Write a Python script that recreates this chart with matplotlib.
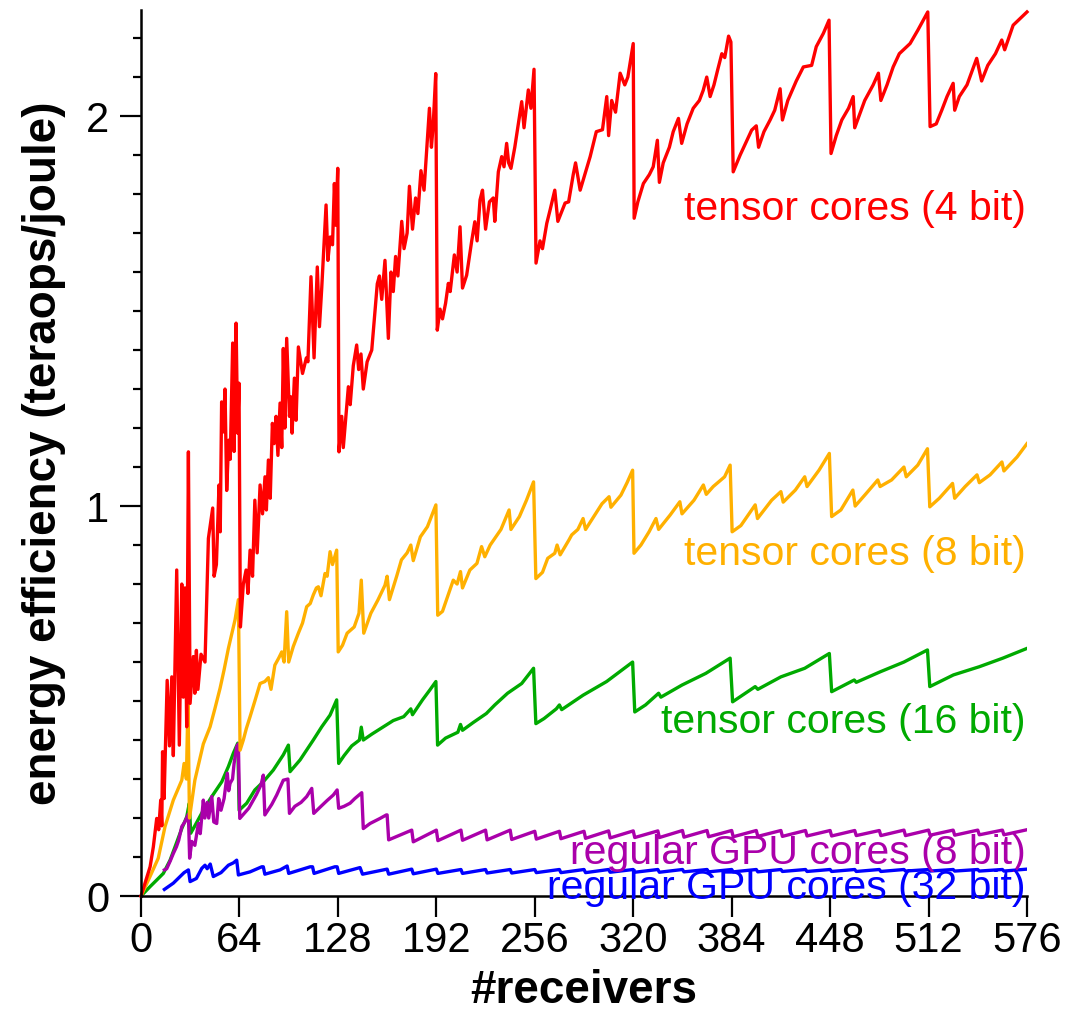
import matplotlib
matplotlib.use('Agg')
import matplotlib.pyplot as plt
from matplotlib.ticker import MultipleLocator

plt.rcParams['font.family'] = ['Liberation Sans', 'DejaVu Sans']

# tensor cores (4 bit)
red_x = [0, 5.9, 8, 10.2, 11.5, 12.8, 13.5, 14, 15, 17, 18.5, 20, 21, 23.2, 24.9, 26.5, 27.5, 28.6, 29.7,
         30.8, 31.9, 34, 35, 36, 37, 39, 41.6, 43.8, 46.6, 47.5, 49, 50.7, 51.5, 52.4, 53.5, 54.6, 55.7, 57,
         58, 59.6, 60.5, 61.8, 62.8, 63.7, 64.6, 66.5, 68.3, 69.5, 70.9, 72.5, 74, 75.5, 77.4, 79, 80.6, 81.5,
         82.8, 84, 85.4, 86.5, 87.8, 89, 90.4, 91.5, 92.5, 93.5, 94.7, 96.5, 97.5, 98.2, 99.7, 100.8, 102.3,
         105, 107.5, 108.5, 110.5, 112.5, 114.6, 116, 117.5, 120.3, 121.5, 123, 124.5, 125.7, 126.7, 127.9,
         128.7, 130.5, 131.5, 133, 134.8, 136, 138, 140.2, 141.5, 143, 144.5, 147, 150, 153.6, 155, 156.5,
         158.6, 160.8, 162.5, 164, 165.5, 167, 169.5, 171, 173, 174.5, 176.5, 178.5, 180, 182, 184, 185.7,
         187.5, 188.8, 190, 191.6, 192.6, 194.4, 196, 198, 199.8, 201, 203.7, 205.5, 207.4, 209, 211.7, 215,
         217, 218.5, 220.4, 222, 224, 226.5, 229, 230, 232.3, 234.5, 236, 237.7, 239, 240.5, 243, 247.5, 249,
         251.8, 253.5, 255.5, 256.8, 259.4, 261, 263.8, 266, 269, 271, 275.7, 278, 281, 282.5, 285.5, 290,
         292, 296, 300, 302.8, 304, 306, 308.5, 311.5, 314.5, 316.5, 320, 320.6, 323, 326.6, 330.5, 333,
         335.7, 337, 339.5, 343.5, 346, 349.4, 351.5, 355, 359, 363, 365.5, 367.8, 370, 372.5, 375, 377.6,
         379.5, 382, 383.5, 385, 389.5, 393, 397, 400, 401.5, 405, 409, 412, 415.5, 417, 420.5, 426, 430.6,
         436, 439, 443.6, 447.3, 448.6, 452, 455.6, 460, 463, 464, 470.5, 476, 479.4, 481, 485, 489, 493,
         500, 505, 509.7, 511.5, 513, 517, 520.6, 524, 528, 529, 532, 537, 543.3, 546.5, 550.5, 555.5,
         559.6, 561.5, 567, 571.5, 576]
red_y = [0, 0.075, 0.126, 0.199, 0.17, 0.246, 0.18, 0.37, 0.25, 0.553, 0.385, 0.562, 0.36, 0.836, 0.387,
         0.80, 0.51, 0.79, 0.434, 1.139, 0.494, 0.614, 0.52, 0.63, 0.53, 0.62, 0.60, 0.917, 0.995, 0.82,
         0.85, 1.054, 0.934, 1.267, 1.19, 1.30, 1.04, 1.169, 1.12, 1.418, 1.14, 1.469, 1.187, 1.315, 0.69,
         0.80, 0.836, 0.776, 0.887, 0.82, 1.015, 0.88, 1.054, 0.98, 1.075, 0.99, 1.118, 1.02, 1.212, 1.16,
         1.23, 1.13, 1.264, 1.15, 1.404, 1.2, 1.43, 1.23, 1.28, 1.187, 1.328, 1.22, 1.408, 1.34, 1.38, 1.37,
         1.588, 1.38, 1.613, 1.46, 1.56, 1.772, 1.63, 1.69, 1.67, 1.827, 1.72, 1.866, 1.139, 1.23, 1.15,
         1.22, 1.306, 1.26, 1.36, 1.413, 1.35, 1.39, 1.30, 1.37, 1.40, 1.57, 1.59, 1.53, 1.63, 1.43, 1.60,
         1.55, 1.64, 1.59, 1.73, 1.66, 1.70, 1.82, 1.71, 1.79, 1.75, 1.86, 1.81, 1.91, 2.02, 1.92, 1.98,
         2.109, 1.451, 1.505, 1.48, 1.52, 1.571, 1.55, 1.644, 1.60, 1.716, 1.559, 1.592, 1.68, 1.729, 1.68,
         1.785, 1.81, 1.71, 1.78, 1.79, 1.73, 1.857, 1.896, 1.87, 1.93, 1.88, 1.866, 1.92, 2.037, 1.97,
         2.067, 2.02, 2.12, 1.623, 1.68, 1.66, 1.725, 1.76, 1.81, 1.73, 1.777, 1.78, 1.85, 1.88, 1.81, 1.87,
         1.896, 1.96, 1.965, 2.05, 1.95, 2.04, 2.01, 2.11, 2.08, 2.10, 2.186, 1.738, 1.78, 1.827, 1.85,
         1.87, 1.938, 1.83, 1.88, 1.92, 1.96, 1.994, 1.93, 1.98, 2.02, 2.04, 2.066, 2.10, 2.05, 2.08, 2.12,
         2.16, 2.15, 2.205, 2.19, 1.857, 1.9, 1.93, 1.964, 1.975, 1.92, 1.96, 1.99, 2.015, 2.07, 1.99, 2.04,
         2.09, 2.126, 2.13, 2.178, 2.212, 2.246, 1.904, 1.95, 1.99, 2.02, 2.05, 1.97, 2.04, 2.08, 2.11,
         2.04, 2.08, 2.126, 2.16, 2.186, 2.22, 2.254, 2.267, 1.973, 1.98, 2.015, 2.05, 2.084, 2.015, 2.05,
         2.08, 2.148, 2.09, 2.13, 2.16, 2.195, 2.17, 2.233, 2.25, 2.267]

# tensor cores (8 bit)
orange_x = [0, 5.85, 11.2, 15.6, 21, 26.5, 28, 29.5, 30.5, 31.5, 35, 40.5, 44.9, 48, 51.4, 54, 56.8, 61.1,
            63.3, 64.4, 66.5, 68.5, 70.9, 74, 77.4, 80.5, 82.8, 84.5, 87, 89.5, 91.5, 93, 94.7, 96, 99,
            102.3, 105, 107.7, 110, 112, 114, 115.3, 117, 119.6, 121, 122.9, 124.5, 127.2, 128.2, 131, 134,
            138.6, 141.7, 143.2, 144.8, 149.4, 154, 158.6, 160, 161.5, 166.2, 169.3, 173, 175.4, 177, 181.6,
            186.2, 191.7, 192.9, 196, 200, 203, 205.5, 207.7, 209, 213.8, 218.4, 221.4, 223.5, 227, 230.7,
            234, 239.3, 240.5, 246, 250.6, 255.2, 256.7, 261, 264.4, 269, 270.5, 272.5, 278.2, 280, 284,
            287.4, 289, 295, 299.7, 304.3, 305.5, 312, 316, 319.6, 320.5, 325, 330.3, 334.8, 336.5, 344,
            350.3, 351.7, 359.5, 365.6, 367.5, 372, 379.4, 383, 384.3, 390, 399.3, 400.8, 410, 416, 417.5,
            425.4, 431.5, 433, 440.8, 447.5, 449, 455, 462.8, 464.3, 471.4, 479, 480.5, 488, 496, 497.5, 505,
            511.3, 512.8, 519, 527.6, 529, 535.8, 543.5, 545, 552, 559.7, 561, 569.6, 576]
orange_y = [0, 0.05, 0.097, 0.178, 0.246, 0.297, 0.34, 0.30, 0.50, 0.20, 0.297, 0.39, 0.434, 0.48, 0.533,
            0.58, 0.635, 0.708, 0.76, 0.374, 0.40, 0.43, 0.46, 0.50, 0.545, 0.55, 0.56, 0.53, 0.592, 0.61,
            0.626, 0.60, 0.729, 0.60, 0.64, 0.674, 0.70, 0.742, 0.75, 0.772, 0.79, 0.793, 0.77, 0.827, 0.82,
            0.883, 0.85, 0.887, 0.626, 0.643, 0.674, 0.69, 0.725, 0.81, 0.674, 0.725, 0.759, 0.797, 0.82,
            0.76, 0.82, 0.862, 0.88, 0.90, 0.86, 0.921, 0.947, 1.003, 0.72, 0.73, 0.776, 0.81, 0.80, 0.832,
            0.79, 0.836, 0.853, 0.896, 0.87, 0.90, 0.921, 0.94, 0.99, 0.94, 0.973, 1.015, 1.062, 0.814, 0.83,
            0.866, 0.879, 0.90, 0.875, 0.913, 0.926, 0.94, 0.968, 0.94, 0.977, 1.006, 1.024, 0.997, 1.028,
            1.06, 1.092, 0.879, 0.90, 0.934, 0.968, 0.94, 0.977, 1.011, 0.98, 1.015, 1.054, 1.03, 1.05,
            1.075, 1.105, 0.934, 0.95, 1.003, 0.968, 1.015, 1.037, 1.01, 1.041, 1.075, 1.05, 1.092, 1.135,
            0.973, 0.99, 1.041, 1.0, 1.032, 1.067, 1.05, 1.067, 1.10, 1.075, 1.105, 1.147, 0.998, 1.02,
            1.058, 1.02, 1.05, 1.08, 1.06, 1.08, 1.113, 1.09, 1.126, 1.16]

# tensor cores (16 bit)
green_x = [0, 5.85, 10.2, 14.5, 18.9, 22.1, 26.5, 29.7, 31.4, 32.3, 35, 40.5, 46, 52.5, 56.8, 60, 62.9,
           63.8, 68.7, 74, 79.5, 86, 92.5, 95.8, 96.9, 103.4, 112, 117.5, 122.9, 127.2, 128.5, 132, 137,
           142, 143.2, 144.5, 150, 158, 164, 170.8, 175.4, 176.5, 183, 187.7, 191.7, 192.8, 198, 206, 207.7,
           209, 216, 224.5, 230, 238.3, 247.5, 255.2, 256.7, 262, 270, 272, 273.5, 287.4, 302.7, 319.6, 321,
           328, 336.5, 338, 351.7, 367.2, 383, 384.6, 399.3, 401, 416, 431.5, 447.5, 449, 463.7, 465,
           480.6, 496, 511.3, 512.8, 528.2, 545, 560.3, 576]
green_y = [0, 0.024, 0.041, 0.058, 0.092, 0.126, 0.173, 0.203, 0.238, 0.161, 0.18, 0.22, 0.255, 0.293,
           0.332, 0.366, 0.392, 0.22, 0.238, 0.272, 0.293, 0.323, 0.362, 0.387, 0.319, 0.349, 0.40, 0.434,
           0.464, 0.503, 0.34, 0.36, 0.385, 0.40, 0.433, 0.40, 0.415, 0.435, 0.45, 0.46, 0.48, 0.465, 0.503,
           0.528, 0.55, 0.387, 0.405, 0.42, 0.44, 0.425, 0.445, 0.468, 0.49, 0.52, 0.545, 0.584, 0.442,
           0.455, 0.48, 0.49, 0.478, 0.515, 0.55, 0.6, 0.472, 0.49, 0.52, 0.51, 0.541, 0.571, 0.61, 0.498,
           0.537, 0.53, 0.562, 0.584, 0.622, 0.524, 0.554, 0.548, 0.575, 0.6, 0.631, 0.537, 0.567, 0.588,
           0.61, 0.635]

# regular GPU cores (8 bit): irregular start, then a sawtooth with period 16
purple_x = [15.2, 16.7, 19, 21, 23, 24.5, 26.5, 28.5, 30.8, 31.6, 33, 35, 37.3, 38.5, 40.5, 41.5, 43, 44,
            46, 47.3, 49.2, 50.5, 52, 54, 56.1, 57, 57.9, 59.5, 60.5, 62.2, 63.3, 64.2, 70, 75, 78, 79.5,
            80.5, 85, 88.2, 92.5, 95.5, 96.5, 100, 104, 107.7, 111, 112.3, 117, 121, 125, 127.5, 128.5, 132,
            135.9, 139, 143.5, 144.5, 148.9, 155.4, 159.5]
purple_y = [0.067, 0.07, 0.09, 0.109, 0.126, 0.143, 0.178, 0.19, 0.21, 0.097, 0.14, 0.13, 0.186, 0.16,
            0.246, 0.20, 0.24, 0.20, 0.255, 0.19, 0.186, 0.25, 0.22, 0.25, 0.315, 0.27, 0.289, 0.30, 0.34,
            0.383, 0.39, 0.199, 0.225, 0.26, 0.285, 0.31, 0.208, 0.235, 0.259, 0.297, 0.30, 0.212, 0.23,
            0.24, 0.255, 0.276, 0.212, 0.23, 0.245, 0.259, 0.272, 0.225, 0.23, 0.238, 0.25, 0.265, 0.173,
            0.186, 0.199, 0.208]
purple_saw_x = [160, 176, 192, 208, 224, 240, 256, 272, 288, 304, 320, 336, 352, 368, 384, 400, 416, 432,
                448, 464, 480, 496, 512, 528, 544, 560, 576]
purple_peaks = [0.208, 0.169, 0.169, 0.169, 0.169, 0.169, 0.166, 0.166, 0.166, 0.167, 0.167, 0.167, 0.168,
                0.168, 0.168, 0.168, 0.168, 0.168, 0.168, 0.168, 0.168, 0.169, 0.169, 0.169, 0.169, 0.169,
                0.17]
purple_troughs = [0.144, 0.139, 0.142, 0.143, 0.144, 0.145, 0.146, 0.147, 0.148, 0.149, 0.150, 0.150,
                  0.151, 0.152, 0.152, 0.153, 0.153, 0.154, 0.154, 0.155, 0.155, 0.155, 0.156, 0.156,
                  0.157, 0.157]

# regular GPU cores (32 bit)
blue_x = [15.2, 21, 25.4, 28, 30.8, 31.9, 36, 39.5, 41.6, 43, 45, 47, 52, 56.8, 60, 62.2, 63.3, 70.9,
          78.5, 79.5, 80.5, 90.4, 95, 96, 110, 111.5, 112.5, 126, 127.5, 128.5, 142.4, 144]
blue_y = [0.017, 0.033, 0.05, 0.06, 0.067, 0.037, 0.045, 0.071, 0.079, 0.07, 0.082, 0.05, 0.06, 0.079,
          0.085, 0.092, 0.054, 0.062, 0.075, 0.075, 0.056, 0.067, 0.077, 0.058, 0.075, 0.075, 0.058, 0.075,
          0.075, 0.058, 0.073, 0.056]
blue_saw_x = purple_saw_x
blue_peaks = [0.069, 0.069, 0.069, 0.068, 0.068, 0.068, 0.068, 0.068, 0.068, 0.068, 0.068, 0.068, 0.068,
              0.068, 0.068, 0.068, 0.068, 0.068, 0.068, 0.068, 0.068, 0.068, 0.068, 0.068, 0.068, 0.068,
              0.069]
blue_troughs = [0.056, 0.057, 0.058, 0.058, 0.059, 0.059, 0.06, 0.06, 0.06, 0.061, 0.061, 0.061, 0.062,
                0.062, 0.062, 0.062, 0.063, 0.063, 0.063, 0.063, 0.063, 0.064, 0.064, 0.064, 0.064, 0.064]


def saw(head_x, head_y, sx, peaks, troughs):
    # join the irregular head with the peak / trough pairs of the regular part
    xs, ys = list(head_x), list(head_y)
    for i, x in enumerate(sx):
        xs.append(x)
        ys.append(peaks[i])
        if i < len(troughs):
            xs.append(x + 1)
            ys.append(troughs[i])
    return xs, ys


px, py = saw(purple_x, purple_y, purple_saw_x, purple_peaks, purple_troughs)
bx, by = saw(blue_x, blue_y, blue_saw_x, blue_peaks, blue_troughs)

labels = ['tensor cores (4 bit)', 'tensor cores (8 bit)', 'tensor cores (16 bit)',
          'regular GPU cores (8 bit)', 'regular GPU cores (32 bit)']
label_y = [1.763, 0.877, 0.446, 0.111, 0.02]
colors = ['#ff0000', '#ffb000', '#00aa00', '#aa00aa', '#0000ff']

fig = plt.figure(figsize=(10.7, 10.21), dpi=100)
ax = fig.add_axes([0.1318, 0.1224, 0.8280, 0.8678])

lw = 2.4
ax.plot(bx, by, color=colors[4], lw=lw)
ax.plot(green_x, green_y, color=colors[2], lw=lw)
ax.plot(px, py, color=colors[3], lw=lw)
ax.plot(orange_x, orange_y, color=colors[1], lw=lw)
ax.plot(red_x, red_y, color=colors[0], lw=lw, clip_on=False)

for t, y, c in zip(labels, label_y, colors):
    ax.text(575, y, t, color=c, fontsize=29.5, ha='right', va='center')

ax.set_xlim(0, 576)
ax.set_ylim(0, 2.272)
ax.set_xticks(range(0, 577, 64))
ax.set_yticks([0, 1, 2])
ax.yaxis.set_minor_locator(MultipleLocator(0.1))
ax.tick_params(axis='both', which='major', labelsize=30, length=15, width=1.6)
ax.tick_params(axis='y', which='major', pad=8)
ax.tick_params(axis='x', which='major', pad=3)
ax.tick_params(axis='y', which='minor', length=6, width=1.6)
for s in ['top', 'right']:
    ax.spines[s].set_visible(False)
for s in ['left', 'bottom']:
    ax.spines[s].set_linewidth(1.8)

ax.set_xlabel('#receivers', fontsize=33, fontweight='bold', labelpad=6)
ax.set_ylabel('energy efficiency (teraops/joule)', fontsize=33, fontweight='bold', labelpad=14)

plt.savefig('out.png', dpi=100)
